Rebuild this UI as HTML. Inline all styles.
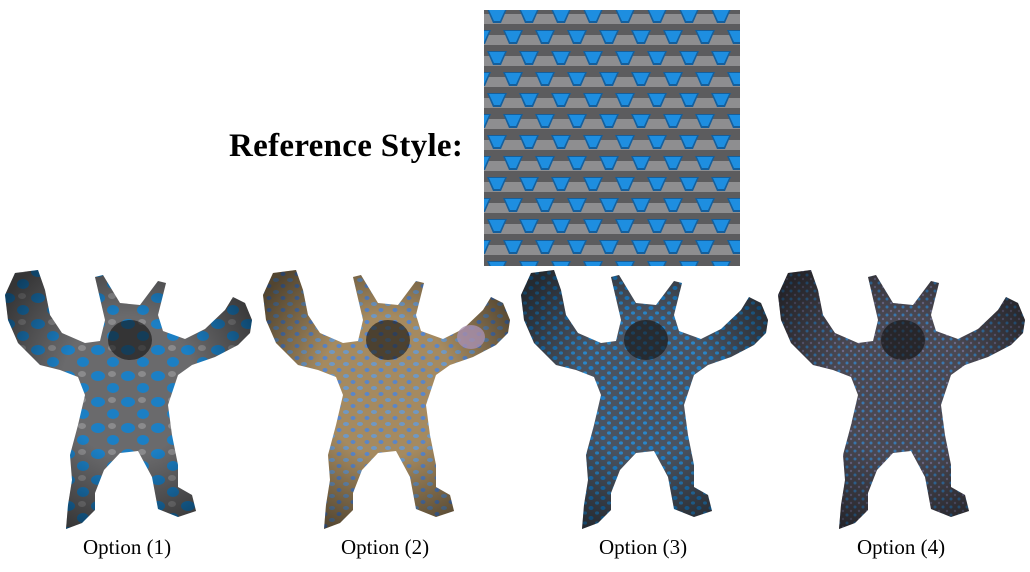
<!DOCTYPE html>
<html><head><meta charset="utf-8"><style>
html,body{margin:0;padding:0;background:#fff;width:1030px;height:572px;overflow:hidden;position:relative}
.t{position:absolute;font-family:"Liberation Serif",serif;color:#000}
</style></head><body>
<svg width="1030" height="572" style="position:absolute;left:0;top:0">
<defs>
<pattern id="tex" width="32" height="42" patternUnits="userSpaceOnUse" x="484" y="10">
<rect width="32" height="42" fill="#5c5c5e"/>
<path d="M0,4 H32 V14 H0 Z M0,25 H32 V35 H0 Z" fill="#8e8e90"/>
<g fill="#155f9c">
<polygon points="3,-1 23,-1 17,13 9,13"/>
<polygon points="19,20 39,20 33,34 25,34"/>
<polygon points="-13,20 7,20 1,34 -7,34"/>
<polygon points="3,41 23,41 17,55 9,55"/>
</g>
<g fill="#1e8ee0">
<polygon points="5,0 21,0 16,11 10,11"/>
<polygon points="21,21 37,21 32,32 26,32"/>
<polygon points="-11,21 5,21 0,32 -6,32"/>
<polygon points="5,42 21,42 16,53 10,53"/>
</g>
</pattern>
<pattern id="p1" width="30" height="26" patternUnits="userSpaceOnUse">
<rect width="30" height="26" fill="#6a6a6c"/>
<ellipse cx="8" cy="7" rx="7" ry="5" fill="#1c7fc4"/>
<ellipse cx="23" cy="19" rx="6" ry="5" fill="#1c7fc4"/>
<ellipse cx="22" cy="5" rx="4" ry="3" fill="#8a8a8c"/>
</pattern>
<pattern id="p2" width="14" height="12" patternUnits="userSpaceOnUse">
<rect width="14" height="12" fill="#a58a60"/>
<ellipse cx="4" cy="3" rx="3" ry="2" fill="#6f98c4"/>
<ellipse cx="11" cy="9" rx="2.5" ry="2" fill="#5a86c8"/>
</pattern>
<pattern id="p3" width="12" height="10" patternUnits="userSpaceOnUse">
<rect width="12" height="10" fill="#4a5360"/>
<ellipse cx="3" cy="3" rx="2.5" ry="2" fill="#1e7ec6"/>
<ellipse cx="9" cy="8" rx="2" ry="1.6" fill="#2a86c8"/>
</pattern>
<pattern id="p4" width="8" height="8" patternUnits="userSpaceOnUse">
<rect width="8" height="8" fill="#4a4852"/>
<circle cx="2" cy="2" r="1.5" fill="#3a78b0"/>
<circle cx="6" cy="6" r="1.2" fill="#6a6a8a"/>
</pattern>
<radialGradient id="shade" cx="0.5" cy="0.45" r="0.6">
<stop offset="0.45" stop-color="#000" stop-opacity="0"/>
<stop offset="1" stop-color="#000" stop-opacity="0.5"/>
</radialGradient>
<path id="arm" d="M 5,30 L 15,8 L 38,5 L 45,25 L 50,50 L 62,68 L 85,78 L 100,76 L 105,55 L 95,12 L 103,10 L 120,38 L 140,40 L 158,16 L 166,18 L 158,50 L 163,66 L 185,74 L 205,64 L 225,45 L 233,32 L 245,38 L 252,55 L 250,68 L 238,80 L 215,92 L 192,100 L 178,110 L 168,140 L 172,170 L 178,200 L 178,222 L 192,230 L 196,246 L 178,252 L 158,244 L 152,212 L 138,186 L 120,188 L 104,205 L 95,228 L 95,245 L 82,258 L 66,264 L 68,240 L 72,215 L 70,190 L 78,160 L 85,130 L 78,112 L 60,105 L 40,100 L 18,78 L 8,55 Z"/>
</defs>
<rect x="484" y="10" width="256" height="256" fill="url(#tex)"/>
<g transform="translate(0,265)"><use href="#arm" fill="url(#p1)"/><use href="#arm" fill="url(#shade)"/><ellipse cx="130" cy="75" rx="22" ry="20" fill="#111" opacity="0.6"/></g>
<g transform="translate(258,265)"><use href="#arm" fill="url(#p2)"/><use href="#arm" fill="url(#shade)"/><ellipse cx="130" cy="75" rx="22" ry="20" fill="#111" opacity="0.6"/><ellipse cx="213" cy="72" rx="14" ry="12" fill="#a890b0" opacity="0.8"/></g>
<g transform="translate(516,265)"><use href="#arm" fill="url(#p3)"/><use href="#arm" fill="url(#shade)"/><ellipse cx="130" cy="75" rx="22" ry="20" fill="#111" opacity="0.6"/></g>
<g transform="translate(773,265)"><use href="#arm" fill="url(#p4)"/><use href="#arm" fill="url(#shade)"/><ellipse cx="130" cy="75" rx="22" ry="20" fill="#111" opacity="0.6"/></g>
</svg>
<div class="t" style="left:229px;top:128px;font-size:33px;font-weight:bold;white-space:nowrap;letter-spacing:0.3px">Reference Style:</div>
<div class="t" style="left:83px;top:535px;font-size:21px">Option (1)</div>
<div class="t" style="left:341px;top:535px;font-size:21px">Option (2)</div>
<div class="t" style="left:599px;top:535px;font-size:21px">Option (3)</div>
<div class="t" style="left:857px;top:535px;font-size:21px">Option (4)</div>
</body></html>
